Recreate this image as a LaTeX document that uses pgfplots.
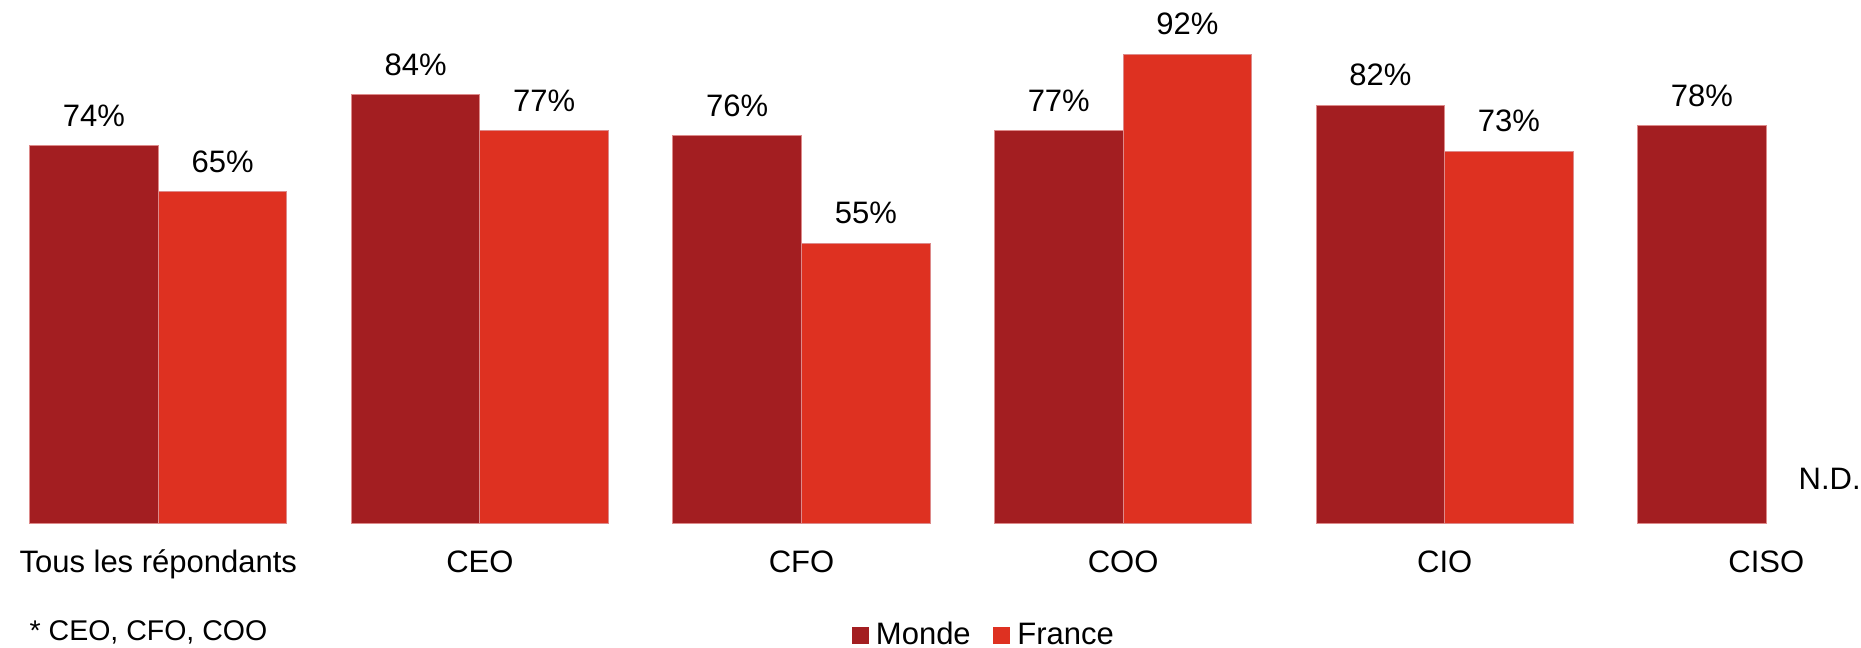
\documentclass[border=0pt]{standalone}
\usepackage{pgfplots}
\pgfplotsset{compat=1.18}
\usepackage{fontspec}
\setmainfont{Liberation Sans}

\definecolor{monde}{HTML}{A31E21}
\definecolor{france}{HTML}{DE3121}
\definecolor{edge}{HTML}{DD8A8A}

\newcommand{\mainfont}{\fontsize{15.5}{18}\selectfont}
\newcommand{\notefont}{\fontsize{14.25}{17}\selectfont}

\begin{document}
\begin{tikzpicture}
\begin{axis}[
  scale only axis, width=930.5pt, height=324pt,
  xmin=-0.4922, xmax=5.2945, ymin=-24.28, ymax=102.58,
  clip=false,
  axis line style={draw=none},
  tick style={draw=none},
  major tick length=0pt,
  ytick=\empty,
  xtick={0,...,5},
  xticklabels={Tous les répondants, CEO, CFO, COO, CIO, CISO},
  xticklabel style={anchor=base, inner sep=0pt, yshift=37.5pt, font=\mainfont},
  ybar, bar width=0.4,
  /pgf/number format/assume math mode=true,
  nodes near coords={\pgfmathprintnumber{\pgfplotspointmeta}\%},
  nodes near coords style={anchor=base, inner sep=0pt, yshift=9.65pt, font=\mainfont, text=black},
  legend columns=2,
  legend image code/.code={\fill[#1,draw=none] (0pt,0pt) rectangle (8.65pt,8.65pt);},
  legend style={at={(axis cs:2.156,-23.5)}, anchor=base west,
    draw=none, fill=none, inner sep=0pt, outer sep=0pt,
    font=\mainfont, nodes={inner sep=0pt, anchor=base},
    /tikz/every odd column/.append style={column sep=3.5pt},
    /tikz/every even column/.append style={column sep=11.15pt}},
]
\addplot[fill=monde, draw=edge, line width=0.5pt, bar shift=-0.2]
  coordinates {(0,74) (1,84) (2,76) (3,77) (4,82) (5,78)};
\addlegendentry{Monde}
\addplot[fill=france, draw=edge, line width=0.5pt, bar shift=0.2]
  coordinates {(0,65) (1,77) (2,55) (3,92) (4,73)};
\addlegendentry{France}

% no France figure for CISO
\node[anchor=base, inner sep=0pt, font=\mainfont] at (axis cs:5.197,6.66) {N.D.};
% footnote
\node[anchor=base west, inner sep=0pt, font=\notefont] at (axis cs:-0.4011,-22.9) {* CEO, CFO, COO};

\coordinate (bl) at (rel axis cs:0,0);
\coordinate (tr) at (rel axis cs:1,1);
\end{axis}
\pgfresetboundingbox
\useasboundingbox (bl) rectangle (tr);
\end{tikzpicture}
\end{document}
